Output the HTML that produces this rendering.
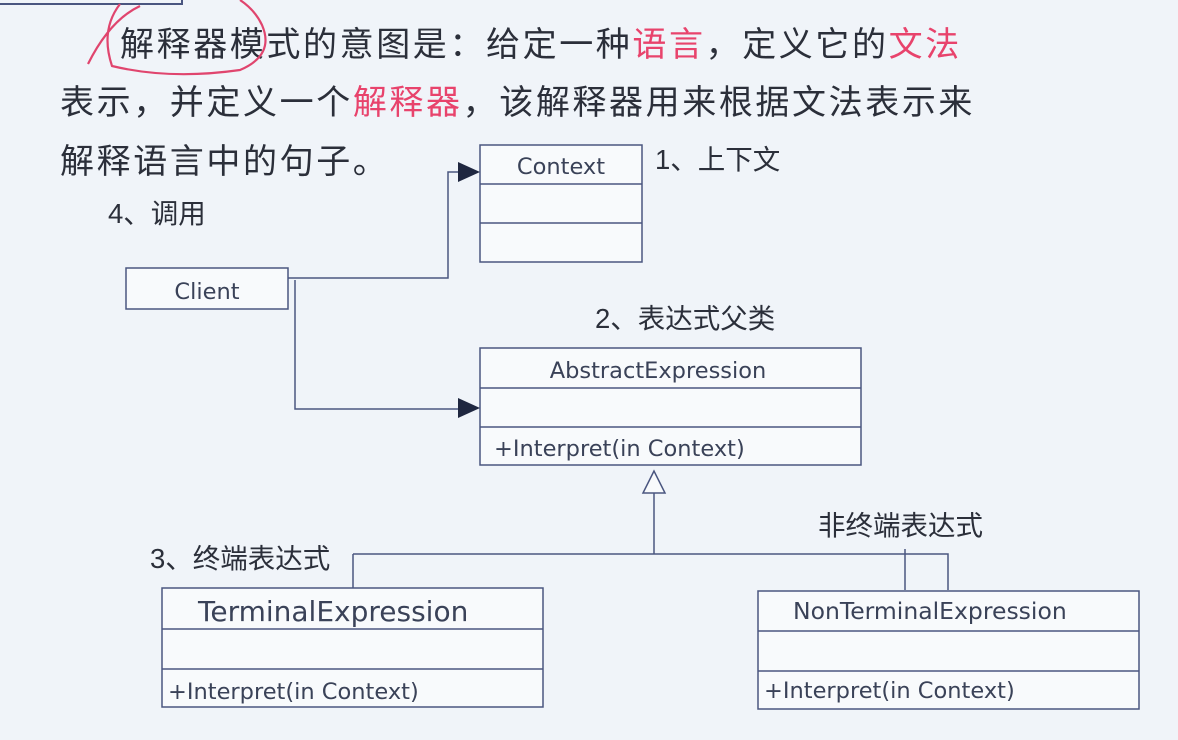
<!DOCTYPE html>
<html><head><meta charset="utf-8"><style>
html,body{margin:0;padding:0;background:#f0f4f9;}
svg{display:block}
.cn{font-family:"Liberation Sans","Noto Sans CJK SC",sans-serif;fill:#2b2f3a}
.en{font-family:"DejaVu Sans","Liberation Sans",sans-serif;fill:#3a4258}
.r{fill:#e8436c}
</style></head><body>
<svg width="1178" height="740" viewBox="0 0 1178 740" xmlns="http://www.w3.org/2000/svg">
<rect width="1178" height="740" fill="#f0f4f9"/>
<path d="M0 4 H182 V0" fill="none" stroke="#4a5680" stroke-width="2"/>
<g class="cn" font-size="34" letter-spacing="2.6">
<text x="120" y="56">解释器模式的意图是：给定一种<tspan class="r">语言</tspan>，定义它的<tspan class="r">文法</tspan></text>
<text x="60" y="114">表示，并定义一个<tspan class="r">解释器</tspan>，该解释器用来根据文法表示来</text>
<text x="60" y="173">解释语言中的句子。</text>
</g>
<path d="M88 64 Q110 20 140 6 M120 4 Q100 30 112 66 Q170 80 240 70 Q275 55 262 25 Q255 10 240 0" fill="none" stroke="#e0456e" stroke-width="2.2"/>
<g fill="#f8fafc" stroke="#4a5680" stroke-width="1.5">
<rect x="480" y="145" width="162" height="117"/>
<rect x="126" y="268" width="162" height="41"/>
<rect x="480" y="348" width="381" height="117"/>
<rect x="162" y="588" width="381" height="119"/>
<rect x="758" y="591" width="381" height="118"/>
</g>
<g stroke="#4a5680" stroke-width="1.5" fill="none">
<path d="M480 184H642M480 223H642"/>
<path d="M480 388H861M480 427H861"/>
<path d="M162 629H543M162 669H543"/>
<path d="M758 631H1139M758 671H1139"/>
<path d="M288 278H448V172H460"/>
<path d="M295 280V409H460"/>
<path d="M654 493V554M353 554H948V590M353 554V588M905 549V590"/>
</g>
<path d="M480 172L458 162V182Z" fill="#1f2740"/>
<path d="M480 408L458 398V418Z" fill="#1f2740"/>
<path d="M654 471L643 493H665Z" fill="#f8fafc" stroke="#4a5680" stroke-width="1.5"/>
<g class="en" font-size="22.5">
<text x="561" y="174" text-anchor="middle">Context</text>
<text x="207" y="299" text-anchor="middle">Client</text>
<text x="658" y="378" text-anchor="middle">AbstractExpression</text>
<text x="494" y="456">+Interpret(in Context)</text>
<text x="198" y="621" font-size="28">TerminalExpression</text>
<text x="168" y="699">+Interpret(in Context)</text>
<text x="793" y="619" font-size="23.5">NonTerminalExpression</text>
<text x="764" y="698">+Interpret(in Context)</text>
</g>
<g class="cn" font-size="27.5">
<text x="655" y="169">1、上下文</text>
<text x="108" y="223">4、调用</text>
<text x="595" y="328">2、表达式父类</text>
<text x="150" y="568">3、终端表达式</text>
<text x="818" y="535">非终端表达式</text>
</g>
</svg>
</body></html>
